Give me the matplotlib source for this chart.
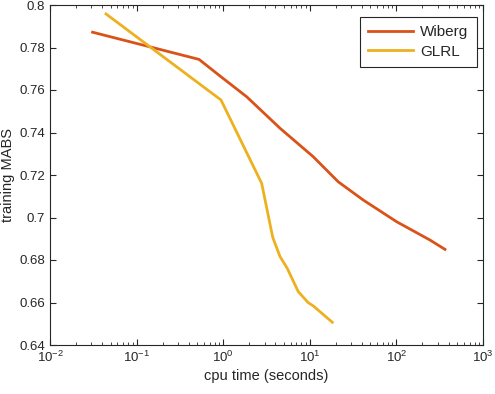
import matplotlib
matplotlib.use("Agg")
import matplotlib.pyplot as plt
from matplotlib.ticker import LogLocator, NullFormatter

wiberg_t = [0.031, 0.526, 0.918, 1.87, 4.53, 10.96, 21.3, 41.5, 100.7, 244, 364]
wiberg_y = [0.7872, 0.7744, 0.7666, 0.7568, 0.742, 0.7286, 0.7168, 0.7082, 0.698, 0.6894, 0.685]

glrl_t = [0.0443, 0.943, 2.78, 3.73, 4.53, 5.5, 7.36, 9.6, 10.96, 18.2]
glrl_y = [0.7958, 0.7553, 0.7161, 0.6907, 0.6816, 0.676, 0.6651, 0.6599, 0.6584, 0.6507]

y_ticks = [0.64, 0.66, 0.68, 0.70, 0.72, 0.74, 0.76, 0.78, 0.80]
y_labels = ["0.64", "0.66", "0.68", "0.7", "0.72", "0.74", "0.76", "0.78", "0.8"]

plt.rcParams['font.family'] = ['Liberation Sans', 'DejaVu Sans']
fig = plt.figure(figsize=(4.95, 3.94), dpi=100)
ax = fig.add_axes([50/495, 1 - 345/394, 433/495, 340/394])

ax.plot(wiberg_t, wiberg_y, color='#D95319', lw=2, label='Wiberg')
ax.plot(glrl_t, glrl_y, color='#EDB120', lw=2, label='GLRL')

ax.set_xscale('log')
ax.set_xlim(1e-2, 1e3)
ax.set_ylim(0.64, 0.8)
ax.set_yticks(y_ticks)
ax.set_yticklabels(y_labels)
ax.xaxis.set_minor_locator(LogLocator(base=10, subs=range(2, 10), numticks=20))
ax.xaxis.set_minor_formatter(NullFormatter())

c = '#262626'
for s in ax.spines.values():
    s.set_color(c)
    s.set_linewidth(0.8)
ax.tick_params(which='both', direction='in', top=True, right=True, colors=c, labelsize=9.5)
ax.tick_params(which='major', length=4)
ax.tick_params(which='minor', length=2)

ax.set_xlabel('cpu time (seconds)', fontsize=10.5, color=c, labelpad=3)
ax.set_ylabel('training MABS', fontsize=10.5, color=c, labelpad=3)

leg = ax.legend(loc='upper right', fontsize=11, frameon=True, fancybox=False,
                edgecolor=c, framealpha=1, handlelength=2.9, borderpad=0.55,
                labelspacing=0.35, handletextpad=0.5, borderaxespad=0,
                bbox_to_anchor=(0.986, 0.965))
leg.get_frame().set_linewidth(0.8)
for t in leg.get_texts():
    t.set_color(c)

fig.savefig('out.png', dpi=100)
